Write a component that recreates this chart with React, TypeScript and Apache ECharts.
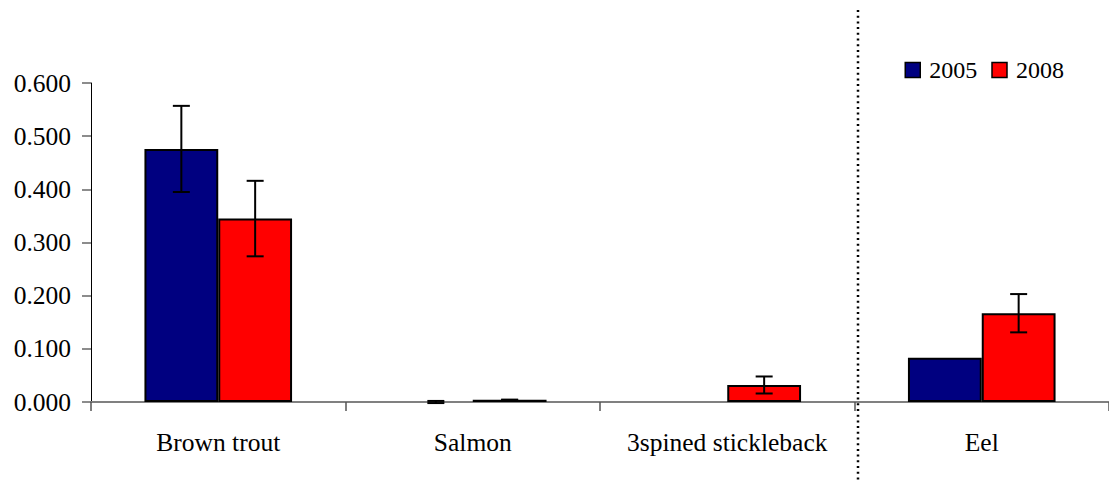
import React, { useEffect, useRef } from "react";
import * as echarts from "echarts";

const categories = ["Brown trout", "Salmon", "3spined stickleback", "Eel"];
const seriesNames = ["2005", "2008"];
const values2005 = [0.476, 0.0, 0.0, 0.083];
const values2008 = [0.345, 0.004, 0.032, 0.167];
const errors2005 = [0.081, 0.002, 0, 0];
const errors2008 = [0.071, 0.0005, 0.016, 0.036];
const yTicks = [0, 0.1, 0.2, 0.3, 0.4, 0.5, 0.6];

const colors = ["#000080", "#FF0000"];
const FONT = "Liberation Serif, Times New Roman, serif";

const GRID = { left: 91, right: 0, top: 83, bottom: 81 };
const CAT_GAP = 0.42;

function barData(vals: number[]) {
  return vals.map((v) =>
    v === 0 ? { value: v, itemStyle: { borderWidth: 0 } } : { value: v }
  );
}

function errData(vals: number[], errs: number[]) {
  return vals
    .map((v, i) => ({ i, v, e: errs[i] }))
    .filter((d) => d.e > 0)
    .map((d) => [d.i, d.v - d.e, d.v + d.e]);
}

function makeErrorSeries(idx: number, vals: number[], errs: number[]) {
  return {
    type: "custom",
    name: seriesNames[idx] + " err",
    z: 5,
    silent: true,
    renderItem: (params: any, api: any) => {
      const x = api.value(0);
      const lo = api.coord([x, api.value(1)]);
      const hi = api.coord([x, api.value(2)]);
      const catW = api.size([1, 0])[0];
      const bw = (catW * (1 - CAT_GAP)) / 2;
      const cx = lo[0] + (idx === 0 ? -bw / 2 : bw / 2);
      const cap = 8.5;
      const style = { stroke: "#000", lineWidth: 2 };
      return {
        type: "group",
        children: [
          { type: "line", shape: { x1: cx, y1: lo[1], x2: cx, y2: hi[1] }, style },
          { type: "line", shape: { x1: cx - cap, y1: hi[1], x2: cx + cap, y2: hi[1] }, style },
          { type: "line", shape: { x1: cx - cap, y1: lo[1], x2: cx + cap, y2: lo[1] }, style },
        ],
      };
    },
    encode: { x: 0, y: [1, 2] },
    data: errData(vals, errs),
  };
}

export default function App() {
  const ref = useRef<HTMLDivElement>(null);
  useEffect(() => {
    document.body.style.margin = "0";
    document.body.style.overflow = "hidden";
    if (!ref.current) return;
    const chart = echarts.init(ref.current, null, { renderer: "svg" });
    const W = 1109;
    const H = 483;
    const plotW = W - GRID.left - GRID.right;
    const sepX = GRID.left + (plotW * 3) / 4 + 3.5;
    chart.setOption({
      animation: false,
      textStyle: { fontFamily: FONT },
      grid: { ...GRID, containLabel: false },
      legend: {
        data: seriesNames,
        right: 40,
        top: 53,
        itemWidth: 15,
        itemHeight: 15,
        itemGap: 14,
        icon: "rect",
        textStyle: { fontFamily: FONT, fontSize: 24, color: "#000", padding: [0, 0, 0, 4] },
        itemStyle: { borderColor: "#000", borderWidth: 1.5 },
      },
      xAxis: {
        type: "category",
        data: categories,
        axisLine: { lineStyle: { color: "#808080", width: 2 } },
        axisTick: { show: true, interval: 0, length: 9, lineStyle: { color: "#555", width: 1.5 } },
        axisLabel: { interval: 0, fontFamily: FONT, fontSize: 25.5, color: "#000", margin: 27 },
      },
      yAxis: {
        type: "value",
        min: yTicks[0],
        max: yTicks[yTicks.length - 1],
        interval: 0.1,
        splitLine: { show: false },
        axisLine: { show: true, lineStyle: { color: "#000", width: 1 } },
        axisTick: { show: true, length: 9, lineStyle: { color: "#666", width: 1.5 } },
        axisLabel: {
          fontFamily: FONT,
          fontSize: 25.5,
          color: "#000",
          margin: 20,
          formatter: (v: number) => v.toFixed(3),
        },
      },
      graphic: [
        {
          type: "line",
          shape: { x1: sepX, y1: 10, x2: sepX, y2: H },
          style: { stroke: "#000", lineWidth: 2.5, lineDash: [2, 3.7] },
          z: 10,
        },
      ],
      series: [
        {
          type: "bar",
          name: seriesNames[0],
          data: barData(values2005),
          barGap: "0%",
          barCategoryGap: CAT_GAP * 100 + "%",
          itemStyle: { color: colors[0], borderColor: "#000", borderWidth: 2 },
        },
        {
          type: "bar",
          name: seriesNames[1],
          data: barData(values2008),
          barGap: "0%",
          barCategoryGap: CAT_GAP * 100 + "%",
          itemStyle: { color: colors[1], borderColor: "#000", borderWidth: 2 },
        },
        makeErrorSeries(0, values2005, errors2005),
        makeErrorSeries(1, values2008, errors2008),
      ],
    });
    return () => chart.dispose();
  }, []);
  return <div ref={ref} style={{ width: 1109, height: 483 }} />;
}
